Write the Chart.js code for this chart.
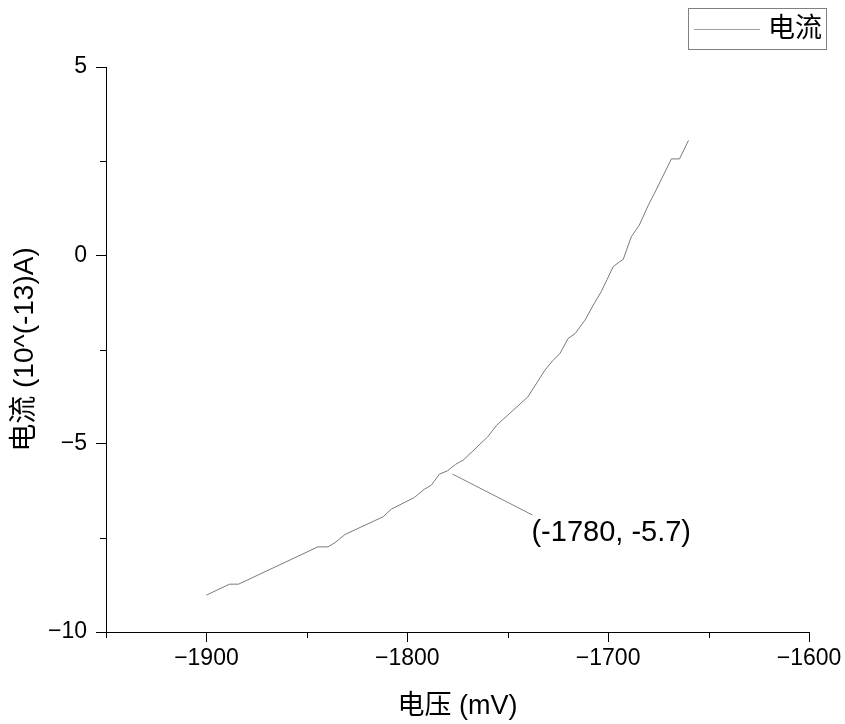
<!DOCTYPE html>
<html>
<head>
<meta charset="utf-8">
<script src="https://cdn.jsdelivr.net/npm/chart.js@4.4.0/dist/chart.umd.min.js"></script>
<style>
  body { margin: 0; background: #fff; }
</style>
</head>
<body>
<canvas id="ivChart" width="845" height="724"></canvas>
<script>
// voltage (mV) and current (10^-13 A)
const voltage = [-1900, -1888.5, -1884, -1844.5, -1839.5, -1836, -1831, -1812, -1808, -1796.5,
                 -1791.5, -1788, -1784, -1780, -1776, -1772, -1760, -1755.5, -1740, -1731.5,
                 -1727.5, -1724, -1720, -1716.5, -1711.5, -1707.5, -1703.5, -1700.5, -1697.5, -1694.5,
                 -1692.5, -1688.5, -1684.5, -1680, -1677, -1668.5, -1664.5, -1660];
const current = [-9.02, -8.73, -8.73, -7.74, -7.74, -7.63, -7.41, -6.94, -6.74, -6.43,
                 -6.21, -6.10, -5.81, -5.72, -5.55, -5.43, -4.82, -4.51, -3.76, -3.05,
                 -2.79, -2.61, -2.21, -2.08, -1.72, -1.33, -0.97, -0.64, -0.30, -0.18,
                 -0.11, 0.49, 0.80, 1.33, 1.64, 2.56, 2.56, 3.05];
const xTicks = [-1900, -1800, -1700, -1600];
const yTicks = [-10, -5, 0, 5];
const annotX = -1780;
const annotY = -5.7;
const seriesName = '电流';

const FONT = '"Liberation Sans", Arial, "Noto Sans CJK SC", sans-serif';
const minus = v => String(v).replace('-', '\u2212');

const points = voltage.map((v, i) => ({ x: v, y: current[i] }));

// minor ticks, annotation and the boxed legend
const extras = {
  id: 'extras',
  afterDraw(chart) {
    const c = chart.ctx;
    const xs = chart.scales.x, ys = chart.scales.y;
    const area = chart.chartArea;
    c.save();
    c.strokeStyle = '#000';
    c.lineWidth = 1;
    c.beginPath();
    for (let v = -1950; v <= -1600; v += 50) {
      if (xTicks.includes(v)) continue;
      const px = Math.round(xs.getPixelForValue(v)) + 0.5;
      c.moveTo(px, area.bottom);
      c.lineTo(px, area.bottom + 6);
    }
    for (let v = -7.5; v < 5; v += 5) {
      const py = Math.round(ys.getPixelForValue(v)) + 0.5;
      c.moveTo(area.left, py);
      c.lineTo(area.left - 6, py);
    }
    c.stroke();

    // annotation
    const ax = xs.getPixelForValue(annotX);
    const ay = ys.getPixelForValue(annotY);
    c.strokeStyle = '#808080';
    c.beginPath();
    c.moveTo(ax + 5, ay + 4);
    c.lineTo(ax + 85, ay + 45);
    c.stroke();
    c.fillStyle = '#000';
    c.font = '29px ' + FONT;
    c.textBaseline = 'middle';
    c.textAlign = 'left';
    c.fillText('(' + annotX + ', ' + annotY + ')', ax + 84, ay + 63);

    // legend
    c.strokeStyle = '#808080';
    c.strokeRect(688.5, 8.5, 138, 41);
    c.strokeStyle = '#a0a0a0';
    c.beginPath();
    c.moveTo(694, 29.5);
    c.lineTo(760, 29.5);
    c.stroke();
    c.font = '27px ' + FONT;
    c.fillText(seriesName, 768, 30);
    c.restore();
  }
};

new Chart(document.getElementById('ivChart'), {
  type: 'line',
  data: {
    datasets: [{
      label: seriesName,
      data: points,
      borderColor: '#7a7a7a',
      borderWidth: 1,
      pointRadius: 0,
      tension: 0,
      fill: false
    }]
  },
  options: {
    responsive: false,
    animation: false,
    layout: { padding: { top: 67, right: 36, left: 0, bottom: 0 } },
    plugins: { legend: { display: false }, tooltip: { enabled: false } },
    scales: {
      x: {
        type: 'linear',
        min: -1950,
        max: -1600,
        afterFit: s => { s.height = 92; },
        border: { color: '#000', width: 1 },
        grid: {
          drawOnChartArea: false,
          tickLength: 10,
          tickColor: ctx => xTicks.includes(ctx.tick.value) ? '#000' : 'rgba(0,0,0,0)'
        },
        ticks: {
          stepSize: 50,
          autoSkip: false,
          maxRotation: 0,
          padding: 3,
          color: '#000',
          font: { family: FONT, size: 23 },
          callback: v => xTicks.includes(v) ? minus(v) : ''
        },
        title: {
          display: true,
          text: '电压 (mV)',
          color: '#000',
          font: { family: FONT, size: 27 },
          padding: { top: 0, bottom: 1 }
        }
      },
      y: {
        min: -10,
        max: 5,
        afterFit: s => { s.width = 106; },
        border: { color: '#000', width: 1 },
        grid: {
          drawOnChartArea: false,
          tickLength: 10,
          tickColor: ctx => yTicks.includes(ctx.tick.value) ? '#000' : 'rgba(0,0,0,0)'
        },
        ticks: {
          stepSize: 2.5,
          autoSkip: false,
          padding: 9,
          color: '#000',
          font: { family: FONT, size: 23 },
          callback: v => yTicks.includes(v) ? minus(v) : ''
        },
        title: {
          display: true,
          text: '电流 (10^(-13)A)',
          color: '#000',
          font: { family: FONT, size: 28 },
          padding: { top: 8, bottom: 0 }
        }
      }
    }
  },
  plugins: [extras]
});
</script>
</body>
</html>
